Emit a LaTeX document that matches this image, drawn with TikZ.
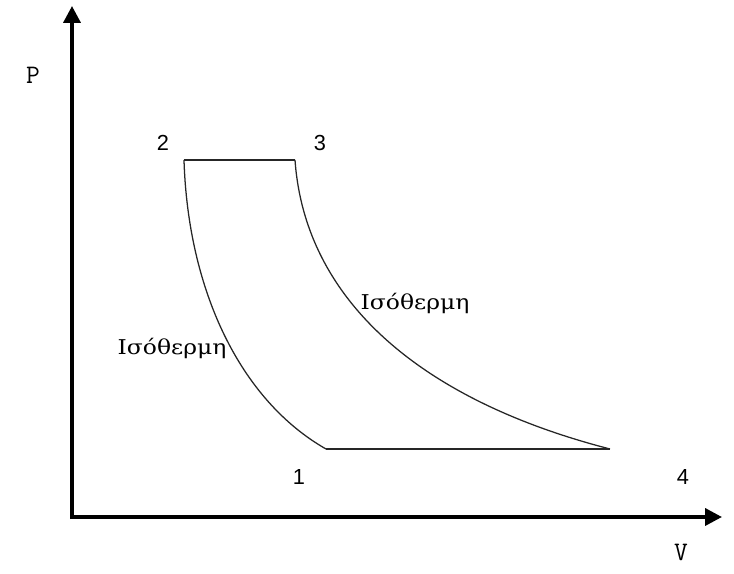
\documentclass[tikz,border=0pt]{standalone}
\usepackage{fontspec}
\setmainfont{Liberation Serif}
\newfontfamily\digitfont{Liberation Sans}
\newfontfamily\isofont[FakeStretch=1.15]{DejaVu Serif}
\usepackage{tikz}
\usetikzlibrary{arrows.meta,positioning}

\begin{document}
\begin{tikzpicture}[
    axis/.style={line width=2.6pt,-{Triangle[length=0.42cm,width=0.42cm]}},
    cycle/.style={line width=0.9pt,black!85},
    ptlabel/.style={font=\digitfont\fontsize{15.5}{17}\selectfont},
    axlabel/.style={font=\ttfamily\fontsize{19}{21}\selectfont},
    isolabel/.style={font=\isofont\fontsize{14.5}{16}\selectfont}]
  \useasboundingbox (0,0) rectangle (18.35,14.35);
  % axes
  \coordinate (O) at (1.8,1.425);
  \coordinate (ytip) at (1.8,14.2);
  \coordinate (xtip) at (18.05,1.425);
  \draw[axis] (1.8,1.37) -- (ytip);
  \draw[axis] (1.75,1.425) -- (xtip);
  \node[axlabel] (P) at (0.825,12.475) {P};
  \node[axlabel] (V) at (17.025,0.55) {V};
  % cycle
  \coordinate (p1) at (8.15,3.125);
  \coordinate (p2) at (4.6,10.35);
  \coordinate (p3) at (7.375,10.35);
  \coordinate (p4) at (15.25,3.125);
  \draw[cycle] (p2) -- (p3);
  \draw[cycle] (p2) .. controls (4.7,7.1) and (6.0,4.35) .. (p1);
  \draw[cycle] (p1) -- (p4);
  \draw[cycle] (p3) .. controls (7.625,6.85) and (10.5,4.35) .. (p4);
  \node[ptlabel] (n1) at (7.475,2.425) {1};
  \node[ptlabel] (n2) at (4.075,10.775) {2};
  \node[ptlabel] (n3) at (8.0,10.775) {3};
  \node[ptlabel] (n4) at (17.075,2.425) {4};
  \node[isolabel] (isoL) at (4.3,5.65) {Ισόθερμη};
  \node[isolabel] (isoR) at (10.375,6.775) {Ισόθερμη};
\end{tikzpicture}
\end{document}
